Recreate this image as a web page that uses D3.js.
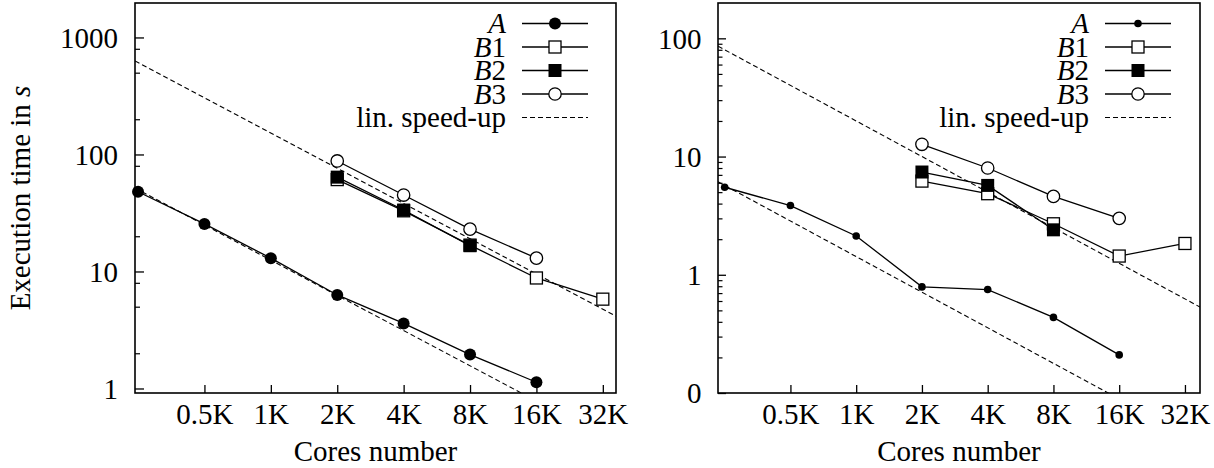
<!DOCTYPE html>
<html>
<head>
<meta charset="utf-8">
<script src="https://cdn.jsdelivr.net/npm/d3@7"></script>
<style>
  body { margin: 0; background: #fff; }
  svg { display: block; }
  text { font-family: "Liberation Serif", "Times New Roman", serif; fill: #000; }
</style>
</head>
<body>
<div class="chart"></div>
<script>
const WIDTH = 1214;
const HEIGHT = 468;
const FONT = 29;

// cores used on the x axis
const cores = [256, 512, 1024, 2048, 4096, 8192, 16384, 32768];
const xTickValues = [512, 1024, 2048, 4096, 8192, 16384, 32768];
const xTickLabels = ['0.5K', '1K', '2K', '4K', '8K', '16K', '32K'];

// left panel (seconds)
const leftA = [48, 25.5, 13.0, 6.3, 3.6, 1.95, 1.13];
const leftB1 = [61, 33, 16.8, 8.8, 5.8];
const leftB2 = [64, 33.5, 16.6];
const leftB3 = [88, 45, 23, 13];
const leftSpeedup = [610, 50];          // ideal time at 256 cores
const leftYTicks = [1, 10, 100, 1000];
const leftYLabels = ['1', '10', '100', '1000'];

// right panel (seconds)
const rightA = [5.5, 3.85, 2.13, 0.79, 0.75, 0.436, 0.21];
const rightB1 = [6.2, 4.85, 2.7, 1.44, 1.84];
const rightB2 = [7.4, 5.7, 2.4];
const rightB3 = [12.7, 8.0, 4.6, 3.0];
const rightSpeedup = [80, 5.7];
const rightYTicks = [0.1, 1, 10, 100];
const rightYLabels = ['0', '1', '10', '100'];

const legendNames = [['A', ''], ['B', '1'], ['B', '2'], ['B', '3']];

var svg = d3.select('.chart').append('svg')
    .attr('width', WIDTH)
    .attr('height', HEIGHT);

function drawPanel(p) {
    var xScale = d3.scaleLog().domain(p.xDomain).range([p.left, p.right]);
    var yScale = d3.scaleLog().domain(p.yDomain).range([p.bottom, p.top]);
    var g = svg.append('g');

    var clipId = 'clip' + p.id;
    svg.append('clipPath').attr('id', clipId)
        .append('rect')
        .attr('x', p.left).attr('y', p.top)
        .attr('width', p.right - p.left).attr('height', p.bottom - p.top);

    // minor y ticks
    var minor = [];
    yScale.ticks().forEach(function (t) {
        var m = Math.round(t / Math.pow(10, Math.floor(Math.log10(t) + 1e-9)));
        if (p.minorMult.indexOf(m) >= 0) minor.push(t);
    });
    g.append('g')
        .attr('transform', 'translate(' + p.left + ',0)')
        .call(d3.axisLeft(yScale).tickValues(minor).tickSize(-p.minorLen).tickFormat(''))
        .call(function (a) { a.select('.domain').remove(); })
        .selectAll('line').attr('stroke', '#000').attr('stroke-width', 1.2);

    // major y ticks
    var yAxisG = g.append('g')
        .attr('transform', 'translate(' + p.left + ',0)')
        .call(d3.axisLeft(yScale)
            .tickValues(p.yTicks)
            .tickSize(-p.majorLen)
            .tickPadding(p.yPad)
            .tickFormat(function (d, i) { return p.yLabels[i]; }));
    yAxisG.select('.domain').remove();
    yAxisG.selectAll('line').attr('stroke', '#000').attr('stroke-width', 1.3);
    yAxisG.selectAll('text')
        .attr('font-size', FONT)
        .attr('font-family', null)
        .attr('dy', '0.34em');

    // x ticks
    var xAxisG = g.append('g')
        .attr('transform', 'translate(0,' + p.bottom + ')')
        .call(d3.axisBottom(xScale)
            .tickValues(xTickValues)
            .tickSize(-8)
            .tickPadding(10)
            .tickFormat(function (d, i) { return xTickLabels[i]; }));
    xAxisG.select('.domain').remove();
    xAxisG.selectAll('line').attr('stroke', '#000').attr('stroke-width', 1.3);
    xAxisG.selectAll('text')
        .attr('font-size', FONT)
        .attr('font-family', null)
        .attr('dy', '0.71em');

    // linear speed-up lines
    var lineGen = d3.line()
        .x(function (d) { return xScale(d[0]); })
        .y(function (d) { return yScale(d[1]); });
    p.speedup.forEach(function (ref) {
        var pts = p.xDomain.map(function (c) { return [c, ref * cores[0] / c]; });
        g.append('path')
            .attr('clip-path', 'url(#' + clipId + ')')
            .attr('d', lineGen(pts))
            .attr('fill', 'none')
            .attr('stroke', '#000')
            .attr('stroke-width', 1.1)
            .attr('stroke-dasharray', '5,3');
    });

    // series
    p.series.forEach(function (s) {
        var pts = s.values.map(function (v, i) { return [cores[s.start + i], v]; });
        g.append('path')
            .attr('d', lineGen(pts))
            .attr('fill', 'none')
            .attr('stroke', '#000')
            .attr('stroke-width', 1.3);
        drawMarkers(g, pts.map(function (d) { return [xScale(d[0]), yScale(d[1])]; }), s.marker, p.aRadius);
    });

    // frame
    g.append('rect')
        .attr('x', p.left).attr('y', p.top)
        .attr('width', p.right - p.left).attr('height', p.bottom - p.top)
        .attr('fill', 'none')
        .attr('stroke', '#000')
        .attr('stroke-width', 1.6);

    // legend
    var rowY = [23.5, 47, 70.5, 94, 117.5];
    var leg = g.append('g');
    p.series.forEach(function (s, i) {
        var t = leg.append('text')
            .attr('x', p.legText).attr('y', rowY[i])
            .attr('dy', '0.34em')
            .attr('text-anchor', 'end')
            .attr('font-size', FONT);
        t.append('tspan').attr('font-style', 'italic').text(legendNames[i][0]);
        if (legendNames[i][1]) t.append('tspan').text(legendNames[i][1]);
        leg.append('line')
            .attr('x1', p.legLine[0]).attr('x2', p.legLine[1])
            .attr('y1', rowY[i]).attr('y2', rowY[i])
            .attr('stroke', '#000').attr('stroke-width', 1.3);
        drawMarkers(leg, [[(p.legLine[0] + p.legLine[1]) / 2, rowY[i]]], s.marker, p.aRadius);
    });
    leg.append('text')
        .attr('x', p.legText).attr('y', rowY[4])
        .attr('dy', '0.34em')
        .attr('text-anchor', 'end')
        .attr('font-size', FONT)
        .text('lin. speed-up');
    leg.append('line')
        .attr('x1', p.legLine[0]).attr('x2', p.legLine[1])
        .attr('y1', rowY[4]).attr('y2', rowY[4])
        .attr('stroke', '#000').attr('stroke-width', 1.1)
        .attr('stroke-dasharray', '5,3');

    // x label
    g.append('text')
        .attr('x', (p.left + p.right) / 2).attr('y', 461)
        .attr('text-anchor', 'middle')
        .attr('font-size', FONT)
        .text('Cores number');
}

function drawMarkers(g, pts, marker, aRadius) {
    pts.forEach(function (d) {
        if (marker === 'dot') {
            g.append('circle').attr('cx', d[0]).attr('cy', d[1]).attr('r', aRadius).attr('fill', '#000');
        } else if (marker === 'circle') {
            g.append('circle').attr('cx', d[0]).attr('cy', d[1]).attr('r', 6.2)
                .attr('fill', '#fff').attr('stroke', '#000').attr('stroke-width', 1.3);
        } else if (marker === 'square') {
            g.append('rect').attr('x', d[0] - 6).attr('y', d[1] - 6).attr('width', 12).attr('height', 12)
                .attr('fill', '#fff').attr('stroke', '#000').attr('stroke-width', 1.3);
        } else {
            g.append('rect').attr('x', d[0] - 6.5).attr('y', d[1] - 6.5).attr('width', 13).attr('height', 13)
                .attr('fill', '#000');
        }
    });
}

drawPanel({
    id: 'L',
    left: 135, right: 616, top: 3, bottom: 393,
    xDomain: [248, 37600], yDomain: [0.915, 1970],
    yTicks: leftYTicks, yLabels: leftYLabels,
    minorMult: [2, 5, 8], majorLen: 9, minorLen: 5, yPad: 17,
    speedup: leftSpeedup, aRadius: 6,
    legText: 506, legLine: [522, 588],
    series: [
        {values: leftA, start: 0, marker: 'dot'},
        {values: leftB1, start: 3, marker: 'square'},
        {values: leftB2, start: 3, marker: 'fsquare'},
        {values: leftB3, start: 3, marker: 'circle'}
    ]
});

drawPanel({
    id: 'R',
    left: 718, right: 1200, top: 3, bottom: 393,
    xDomain: [238.6, 38400], yDomain: [0.1, 199],
    yTicks: rightYTicks, yLabels: rightYLabels,
    minorMult: [2, 3, 4, 5, 6, 7, 8, 9], majorLen: 8, minorLen: 4.5, yPad: 16.5,
    speedup: rightSpeedup, aRadius: 3.8,
    legText: 1089, legLine: [1105, 1171],
    series: [
        {values: rightA, start: 0, marker: 'dot'},
        {values: rightB1, start: 3, marker: 'square'},
        {values: rightB2, start: 3, marker: 'fsquare'},
        {values: rightB3, start: 3, marker: 'circle'}
    ]
});

// y label (left panel only)
var yLab = svg.append('text')
    .attr('transform', 'translate(30,198) rotate(-90)')
    .attr('text-anchor', 'middle')
    .attr('font-size', FONT);
yLab.append('tspan').text('Execution time in ');
yLab.append('tspan').attr('font-style', 'italic').text('s');
</script>
</body>
</html>
